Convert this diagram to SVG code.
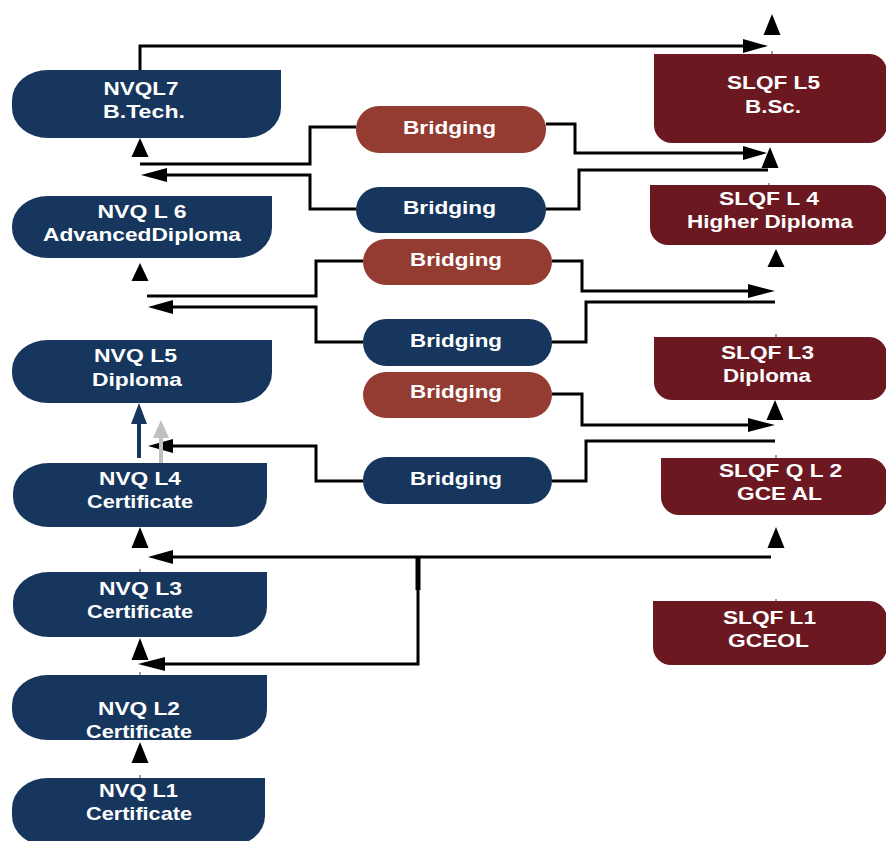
<svg xmlns="http://www.w3.org/2000/svg" width="886" height="841" viewBox="0 0 886 841">
<defs>
<style>
.nvq{fill:#17365d}
.slqf{fill:#6b1820}
.br-red{fill:#943b32}
.br-blue{fill:#17365d}
.t{font-family:"Liberation Sans",Arial,sans-serif;font-weight:bold;font-size:19px;fill:#ffffff;text-anchor:middle}
.ln{fill:none;stroke:#000;stroke-width:3}
.tick{stroke:#444;stroke-width:1}
.ah{fill:#000}
</style>
</defs>
<rect width="886" height="841" fill="#ffffff"/>

<g id="connectors">
  <!-- top NVQL7 -> SLQF L5 -->
  <polyline class="ln" points="140,70 140,46 745,46"/>
  <polygon class="ah" points="768,46 743,39 743,53"/>
  <!-- B1 -->
  <polyline class="ln" points="356,127 310,127 310,164 140,164"/>
  <polyline class="ln" points="546,124 575,124 575,153 745,153"/>
  <polygon class="ah" points="767,153 743,146 743,160"/>
  <!-- B2 -->
  <polyline class="ln" points="356,209 310,209 310,175 165,175"/>
  <polygon class="ah" points="141,175 167,168 167,182"/>
  <polyline class="ln" points="546,209 579,209 579,170 768,170"/>
  <!-- B3 -->
  <polyline class="ln" points="363,261 316,261 316,296 147,296"/>
  <polyline class="ln" points="552,261 582,261 582,291 750,291"/>
  <polygon class="ah" points="775,291 748,284 748,298"/>
  <!-- B4 -->
  <polyline class="ln" points="363,342 316,342 316,307 171,307"/>
  <polygon class="ah" points="148,307 173,300 173,314"/>
  <polyline class="ln" points="552,342 586,342 586,302 775,302"/>
  <!-- B5 -->
  <polyline class="ln" points="552,394 582,394 582,425 750,425"/>
  <polygon class="ah" points="775,425 748,418 748,432"/>
  <!-- B6 -->
  <polyline class="ln" points="363,481 316,481 316,446 171,446"/>
  <polygon class="ah" points="148,446 173,439 173,453"/>
  <polyline class="ln" points="552,481 586,481 586,441 775,441"/>
  <!-- SLQF L2 -> NVQ L4 / L2 -->
  <polyline class="ln" points="771,557 171,557"/>
  <polygon class="ah" points="148,557 173,550 173,564"/>
  <line x1="418" y1="557" x2="418" y2="590" stroke="#000" stroke-width="5"/>
  <polyline class="ln" points="418,588 418,664 163,664"/>
  <polygon class="ah" points="138,664 165,657 165,671"/>
  <!-- vertical up arrowheads, left column -->
  <polygon class="ah" points="140,138 131.5,157 148.5,157"/>
  <polygon class="ah" points="140,263 131.5,281 148.5,281"/>
  <polygon class="ah" points="140,527 131.5,548 148.5,548"/>
  <polygon class="ah" points="140,638 131.5,660 148.5,660"/>
  <polygon class="ah" points="140,742 131.5,763 148.5,763"/>
  <!-- vertical up arrowheads, right column -->
  <polygon class="ah" points="772,14 763.5,35 780.5,35"/>
  <polygon class="ah" points="770,147 761.5,168 778.5,168"/>
  <polygon class="ah" points="776,249 767.5,267 784.5,267"/>
  <polygon class="ah" points="775,400 766.5,420 783.5,420"/>
  <polygon class="ah" points="776,527 767.5,548 784.5,548"/>
  <!-- NVQ L4 -> L5 blue and gray arrows -->
  <line x1="139" y1="458" x2="139" y2="420" stroke="#17365d" stroke-width="4"/>
  <polygon fill="#17365d" points="139,403 131,424 147,424"/>
  <line x1="161" y1="473" x2="161" y2="434" stroke="#c0c0c0" stroke-width="4"/>
  <polygon fill="#c0c0c0" points="161,420 153,438 169,438"/>
  <!-- small ticks -->
  <line class="tick" x1="140" y1="196" x2="140" y2="200"/>
  <line class="tick" x1="140" y1="340" x2="140" y2="344"/>
  <line class="tick" x1="140" y1="569" x2="140" y2="573"/>
  <line class="tick" x1="140" y1="672" x2="140" y2="676"/>
  <line class="tick" x1="140" y1="775" x2="140" y2="779"/>
  <line class="tick" x1="772" y1="51" x2="772" y2="56"/>
  <line class="tick" x1="769" y1="183" x2="769" y2="189"/>
  <line class="tick" x1="776" y1="334" x2="776" y2="339"/>
  <line class="tick" x1="776" y1="455" x2="776" y2="460"/>
  <line class="tick" x1="776" y1="599" x2="776" y2="603"/>
</g>

<g id="nvq7">
  <path class="nvq" d="M48,70 H281 V108 A36,30 0 0 1 245,138 H48 A36,30 0 0 1 12,108 V100 A36,30 0 0 1 48,70 Z"/>
  <text class="t" x="141" y="95" textLength="75" lengthAdjust="spacingAndGlyphs">NVQL7</text>
  <text class="t" x="144" y="118" textLength="82" lengthAdjust="spacingAndGlyphs">B.Tech.</text>
</g>
<g id="nvq6">
  <path class="nvq" d="M48,196 H272 V228 A36,30 0 0 1 236,258 H48 A36,30 0 0 1 12,228 V226 A36,30 0 0 1 48,196 Z"/>
  <text class="t" x="142" y="218" textLength="89" lengthAdjust="spacingAndGlyphs">NVQ L 6</text>
  <text class="t" x="142" y="241" textLength="198" lengthAdjust="spacingAndGlyphs">AdvancedDiploma</text>
</g>
<g id="nvq5">
  <path class="nvq" d="M48,340 H272 V373 A36,30 0 0 1 236,403 H48 A36,30 0 0 1 12,373 V370 A36,30 0 0 1 48,340 Z"/>
  <text class="t" x="135.5" y="362" textLength="83" lengthAdjust="spacingAndGlyphs">NVQ L5</text>
  <text class="t" x="137" y="386" textLength="90" lengthAdjust="spacingAndGlyphs">Diploma</text>
</g>
<g id="nvq4">
  <path class="nvq" d="M49,463 H267 V497 A36,30 0 0 1 231,527 H49 A36,30 0 0 1 13,497 V493 A36,30 0 0 1 49,463 Z"/>
  <text class="t" x="140" y="485" textLength="82" lengthAdjust="spacingAndGlyphs">NVQ L4</text>
  <text class="t" x="140" y="508" textLength="106" lengthAdjust="spacingAndGlyphs">Certificate</text>
</g>
<g id="nvq3">
  <path class="nvq" d="M49,572 H267 V607 A36,30 0 0 1 231,637 H49 A36,30 0 0 1 13,607 V602 A36,30 0 0 1 49,572 Z"/>
  <text class="t" x="140.5" y="595" textLength="83" lengthAdjust="spacingAndGlyphs">NVQ L3</text>
  <text class="t" x="140" y="618" textLength="106" lengthAdjust="spacingAndGlyphs">Certificate</text>
</g>
<g id="nvq2">
  <path class="nvq" d="M48,675 H267 V710 A36,30 0 0 1 231,740 H48 A36,30 0 0 1 12,710 V705 A36,30 0 0 1 48,675 Z"/>
  <text class="t" x="139" y="715" textLength="82" lengthAdjust="spacingAndGlyphs">NVQ L2</text>
  <text class="t" x="139" y="738" textLength="106" lengthAdjust="spacingAndGlyphs">Certificate</text>
</g>
<g id="nvq1">
  <path class="nvq" d="M48,778 H265 V816 A36,30 0 0 1 229,846 H48 A36,30 0 0 1 12,816 V808 A36,30 0 0 1 48,778 Z"/>
  <text class="t" x="138.5" y="797" textLength="79" lengthAdjust="spacingAndGlyphs">NVQ L1</text>
  <text class="t" x="139" y="820" textLength="106" lengthAdjust="spacingAndGlyphs">Certificate</text>
</g>

<g id="bridging1">
  <rect class="br-red" x="356" y="106" width="190" height="47" rx="23" ry="23"/>
  <text class="t" x="449.5" y="134" textLength="93" lengthAdjust="spacingAndGlyphs">Bridging</text>
</g>
<g id="bridging2">
  <rect class="br-blue" x="356" y="187" width="190" height="46" rx="23" ry="23"/>
  <text class="t" x="449.5" y="214" textLength="93" lengthAdjust="spacingAndGlyphs">Bridging</text>
</g>
<g id="bridging3">
  <rect class="br-red" x="363" y="239" width="189" height="46" rx="23" ry="23"/>
  <text class="t" x="456" y="266" textLength="92" lengthAdjust="spacingAndGlyphs">Bridging</text>
</g>
<g id="bridging4">
  <rect class="br-blue" x="363" y="319" width="189" height="47" rx="23" ry="23"/>
  <text class="t" x="456" y="347" textLength="92" lengthAdjust="spacingAndGlyphs">Bridging</text>
</g>
<g id="bridging5">
  <rect class="br-red" x="363" y="372" width="189" height="46" rx="23" ry="23"/>
  <text class="t" x="456" y="398" textLength="92" lengthAdjust="spacingAndGlyphs">Bridging</text>
</g>
<g id="bridging6">
  <rect class="br-blue" x="363" y="457" width="189" height="47" rx="23" ry="23"/>
  <text class="t" x="456" y="485" textLength="92" lengthAdjust="spacingAndGlyphs">Bridging</text>
</g>

<g id="slqf5">
  <path class="slqf" d="M654,54 H869 A18,18 0 0 1 887,72 V125 A18,18 0 0 1 869,143 H672 A18,18 0 0 1 654,125 Z"/>
  <text class="t" x="773.5" y="89" textLength="93" lengthAdjust="spacingAndGlyphs">SLQF L5</text>
  <text class="t" x="773" y="113" textLength="56" lengthAdjust="spacingAndGlyphs">B.Sc.</text>
</g>
<g id="slqf4">
  <path class="slqf" d="M650,185 H869 A18,18 0 0 1 887,203 V227 A18,18 0 0 1 869,245 H668 A18,18 0 0 1 650,227 Z"/>
  <text class="t" x="769" y="205" textLength="100" lengthAdjust="spacingAndGlyphs">SLQF L 4</text>
  <text class="t" x="770" y="228" textLength="166" lengthAdjust="spacingAndGlyphs">Higher Diploma</text>
</g>
<g id="slqf3">
  <path class="slqf" d="M654,337 H869 A18,18 0 0 1 887,355 V382 A18,18 0 0 1 869,400 H672 A18,18 0 0 1 654,382 Z"/>
  <text class="t" x="767.5" y="359" textLength="93" lengthAdjust="spacingAndGlyphs">SLQF L3</text>
  <text class="t" x="767" y="382" textLength="88" lengthAdjust="spacingAndGlyphs">Diploma</text>
</g>
<g id="slqf2">
  <path class="slqf" d="M661,458 H869 A18,18 0 0 1 887,476 V497 A18,18 0 0 1 869,515 H679 A18,18 0 0 1 661,497 Z"/>
  <text class="t" x="780.5" y="477" textLength="123" lengthAdjust="spacingAndGlyphs">SLQF Q L 2</text>
  <text class="t" x="779.5" y="500" textLength="85" lengthAdjust="spacingAndGlyphs">GCE AL</text>
</g>
<g id="slqf1">
  <path class="slqf" d="M653,601 H869 A18,18 0 0 1 887,619 V647 A18,18 0 0 1 869,665 H671 A18,18 0 0 1 653,647 Z"/>
  <text class="t" x="769.5" y="624" textLength="93" lengthAdjust="spacingAndGlyphs">SLQF L1</text>
  <text class="t" x="768.5" y="647" textLength="81" lengthAdjust="spacingAndGlyphs">GCEOL</text>
</g>
</svg>
